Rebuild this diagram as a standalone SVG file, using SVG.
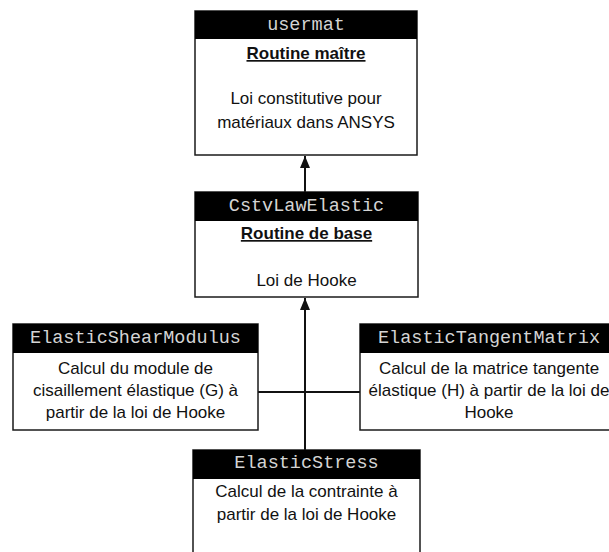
<svg xmlns="http://www.w3.org/2000/svg" width="609" height="552" viewBox="0 0 609 552">
<style>
.box{fill:#fff;stroke:#1a1a1a;stroke-width:1.5}
.hdr{fill:#000}
.ht{font-family:"Liberation Mono",monospace;font-size:18.5px;fill:#d4d4d4;text-anchor:middle}
.bt{font-family:"Liberation Sans",Arial,sans-serif;font-size:17px;fill:#111;text-anchor:middle}
.bb{font-weight:bold;text-decoration:underline}
.cn{stroke:#111;stroke-width:2;fill:none}
</style>
<defs>
<marker id="ah" viewBox="0 0 12 10" refX="12" refY="5" markerWidth="12" markerHeight="10" markerUnits="userSpaceOnUse" orient="auto">
<path d="M0,0 L12,5 L0,10 z" fill="#111"/>
</marker>
</defs>
<rect width="609" height="552" fill="#fff"/>
<g id="connectors">
<line class="cn" x1="305" y1="192" x2="305" y2="156" marker-end="url(#ah)"/>
<line class="cn" x1="305" y1="450" x2="305" y2="298" marker-end="url(#ah)"/>
<line class="cn" x1="258" y1="392" x2="360" y2="392"/>
</g>
<g id="usermat">
<rect class="box" x="195" y="11" width="222" height="144"/>
<rect class="hdr" x="195" y="11" width="222" height="28"/>
<text class="ht" x="306" y="30">usermat</text>
<text class="bt bb" x="306" y="59">Routine maître</text>
<text class="bt" x="306" y="104">Loi constitutive pour</text>
<text class="bt" x="306" y="128">matériaux dans ANSYS</text>
</g>
<g id="CstvLawElastic">
<rect class="box" x="195" y="192" width="223" height="105"/>
<rect class="hdr" x="195" y="192" width="223" height="29"/>
<text class="ht" x="306.5" y="211">CstvLawElastic</text>
<text class="bt bb" x="306.5" y="239">Routine de base</text>
<text class="bt" x="306.5" y="286">Loi de Hooke</text>
</g>
<g id="ElasticShearModulus">
<rect class="box" x="13" y="324" width="245" height="106"/>
<rect class="hdr" x="13" y="324" width="245" height="29"/>
<text class="ht" x="135.5" y="343">ElasticShearModulus</text>
<text class="bt" x="135.5" y="374">Calcul du module de</text>
<text class="bt" x="135.5" y="396">cisaillement élastique (G) à</text>
<text class="bt" x="135.5" y="418">partir de la loi de Hooke</text>
</g>
<g id="ElasticTangentMatrix">
<rect class="box" x="360" y="324" width="258" height="106"/>
<rect class="hdr" x="360" y="324" width="258" height="29"/>
<text class="ht" x="489" y="343">ElasticTangentMatrix</text>
<text class="bt" x="489" y="374">Calcul de la matrice tangente</text>
<text class="bt" x="489" y="396">élastique (H) à partir de la loi de</text>
<text class="bt" x="489" y="418">Hooke</text>
</g>
<g id="ElasticStress">
<rect class="box" x="193" y="450" width="227" height="110"/>
<rect class="hdr" x="193" y="450" width="227" height="29"/>
<text class="ht" x="306.5" y="468">ElasticStress</text>
<text class="bt" x="306.5" y="497">Calcul de la contrainte à</text>
<text class="bt" x="306.5" y="520">partir de la loi de Hooke</text>
</g>
</svg>
